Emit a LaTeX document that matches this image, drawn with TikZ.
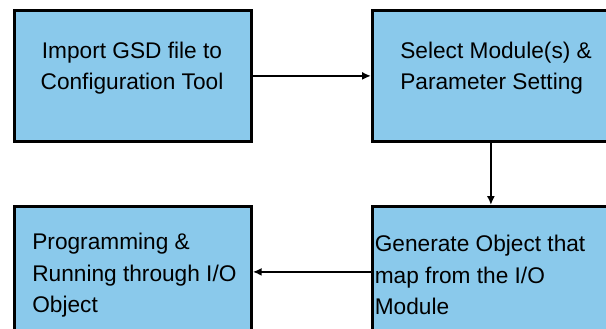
\documentclass[tikz,border=0pt]{standalone}
\usepackage{fontspec}
\setmainfont{Liberation Sans}
\usetikzlibrary{arrows.meta}
\definecolor{boxblue}{RGB}{138,201,235}
\tikzset{
  stepbox/.style={draw=black, line width=1.6pt, fill=boxblue, minimum width=4.74cm, minimum height=2.62cm, anchor=north west, inner sep=0pt},
  boxtext/.style={inner sep=0pt, align=left, font=\fontsize{12.9}{17.9}\selectfont},
  flow/.style={line width=1.1pt, -{Latex[length=5pt,width=4.5pt]}}
}
\begin{document}
\begin{tikzpicture}

    % Frame
    \fill[white] (0,0) rectangle (12.12,-6.58);
    \useasboundingbox (0,0) rectangle (12.12,-6.58);
    \clip (0,0) rectangle (12.12,-6.58);

    % Boxes
    \node[stepbox] (import) at (0.26,-0.18) {};
    \node[stepbox] (select) at (7.42,-0.18) {};
    \node[stepbox] (generate) at (7.42,-4.10) {};
    \node[stepbox] (program) at (0.26,-4.10) {};

    % Texts
    \node[boxtext, align=center, anchor=north] (importtxt) at (2.64,-0.83) {Import GSD file to\\Configuration Tool};
    \node[boxtext, anchor=north west] (selecttxt) at (8.00,-0.83) {Select Module(s) \&\\Parameter Setting};
    \node[boxtext, anchor=north west] (generatetxt) at (7.49,-4.70) {Generate Object that\\map from the I/O\\Module};
    \node[boxtext, anchor=north west] (programtxt) at (0.64,-4.66) {Programming \&\\Running through I/O\\Object};

    % Arrows
    \draw[flow] (import.east) -- (select.west);
    \draw[flow] (select.south) -- (generate.north);
    \draw[flow] (generate.west) -- (program.east);

\end{tikzpicture}
\end{document}
